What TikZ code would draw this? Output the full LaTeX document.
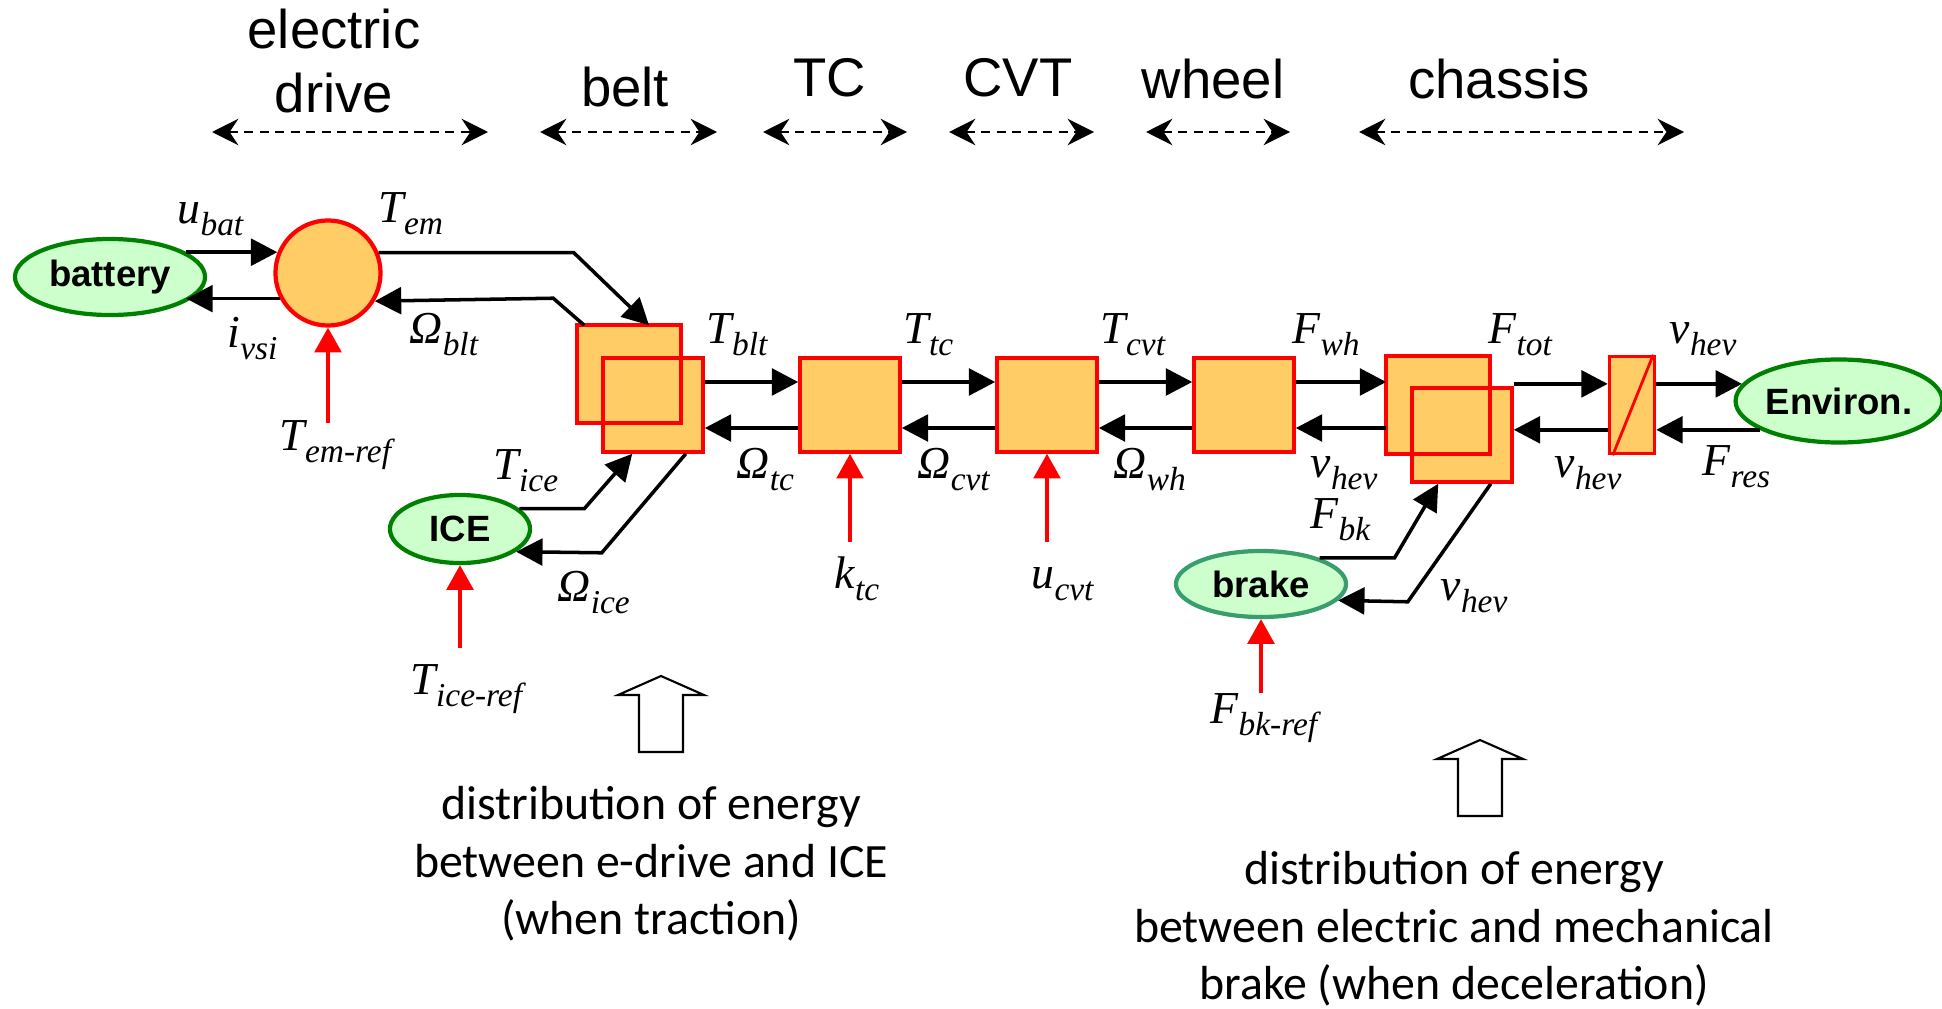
\documentclass[tikz,border=0pt]{standalone}
\usepackage{fontspec}
\setmainfont{Liberation Sans}
\newfontfamily\sigfont{Liberation Serif}
\newfontfamily\notefont{Carlito}
\usetikzlibrary{arrows.meta,shapes.geometric}
\definecolor{blockfill}{RGB}{255,204,102}
\definecolor{blockline}{RGB}{255,0,0}
\definecolor{srcfill}{RGB}{204,255,204}
\definecolor{srcline}{RGB}{0,128,0}
\definecolor{brakeline}{RGB}{56,158,108}
\newcommand{\vsig}[2]{#1\raisebox{-0.28em}{\fontsize{9.5}{10}\selectfont #2}}

\begin{document}
\begin{tikzpicture}[x=0.01cm, y=-0.01cm,
  block/.style={draw=blockline, fill=blockfill, line width=1pt, minimum width=1cm, minimum height=0.94cm, inner sep=0pt},
  source/.style={ellipse, draw=srcline, fill=srcfill, line width=1.2pt, inner sep=0pt, font=\bfseries\fontsize{10.4}{12}\selectfont},
  flow/.style={-{Triangle[length=7.5pt,width=7.6pt]}, line width=1pt},
  refarrow/.style={-{Triangle[length=7pt,width=7.6pt]}, red, line width=0.9pt},
  stagespan/.style={{Stealth[length=7.5pt,width=7.5pt,inset=2.5pt]}-{Stealth[length=7.5pt,width=7.5pt,inset=2.5pt]}, line width=0.7pt, dash pattern=on 2.6pt off 1.8pt},
  heading/.style={font=\fontsize{15.5}{18.2}\selectfont, inner sep=0pt, align=center},
  sig/.style={font=\sigfont\itshape\fontsize{13}{15}\selectfont, inner sep=0pt, anchor=base west},
  note/.style={font=\notefont\fontsize{13.6}{16.3}\selectfont, inner sep=0pt, align=center},
  hollow/.style={draw, fill=white, line width=0.6pt}]
\useasboundingbox (0,0) rectangle (1942,1009);

\node[heading] (hd-edrive) at (334,61) {electric\\drive};
\node[heading, anchor=base] (hd-belt) at (625,106) {belt};
\node[heading, anchor=base] (hd-tc) at (830,96) {TC};
\node[heading, anchor=base] (hd-cvt) at (1018,96) {CVT};
\node[heading, anchor=base] (hd-wheel) at (1213,98) {wheel};
\node[heading, anchor=base] (hd-chassis) at (1499,98) {chassis};
\foreach \stage/\from/\to in {edrive/212/488, belt/540/717, tc/763/907, cvt/949/1094, wheel/1146/1290, chassis/1359/1684} {
  \coordinate (\stage-l) at (\from,132);
  \coordinate (\stage-r) at (\to,132);
  \draw[stagespan] (\stage-l) -- (\stage-r);
}

\node[source, minimum width=1.9cm, minimum height=0.76cm] (battery) at (110,277) {battery};
\node[circle, draw=blockline, fill=blockfill, line width=1.2pt, minimum size=1.05cm] (em) at (328,273) {};
\node[block, draw=none] (belt1) at (629,374) {};
\node[block] (belt2) at (653,405) {};
\draw[blockline, line width=1pt] (belt1.south west) rectangle (belt1.north east);
\node[block] (tc) at (850,405) {};
\node[block] (cvt) at (1047,405) {};
\node[block] (wheel) at (1244,405) {};
\node[block, draw=none] (chassis1) at (1438,405) {};
\node[block] (chassis2) at (1462,435) {};
\draw[blockline, line width=1pt] (chassis1.south west) rectangle (chassis1.north east);
\node[block, minimum width=0.45cm, minimum height=0.97cm] (vehicle) at (1632,405) {};
\draw[blockline, line width=0.8pt] ([xshift=0.5mm]vehicle.south west) -- ([xshift=-0.3mm]vehicle.north east);
\node[source, minimum width=1.4cm, minimum height=0.68cm] (ice) at (460,529) {ICE};
\node[source, draw=brakeline, minimum width=1.7cm, minimum height=0.66cm] (brake) at (1261,584) {brake};
\node[source, minimum width=1.98cm, minimum height=0.83cm] (environ) at (1839,401) {Environ.};

\draw[flow] (battery.18) -- (em.158 |- battery.18);
\draw[flow] (em.208) -- (battery.-18 |- em.208);
\draw[flow] (em.22) -- ++(195,0) -- ([xshift=2mm]belt1.north);
\draw[flow] ([xshift=0.7mm]belt1.north west) -- ++(-31,-27) -- (em.-31);
\foreach \a/\b in {belt2/tc, tc/cvt, cvt/wheel, wheel/chassis1} {
  \draw[flow] ([yshift=2.3mm]\a.east) -- ([yshift=2.3mm]\b.west);
  \draw[flow] ([yshift=-2.3mm]\b.west) -- ([yshift=-2.3mm]\a.east);
}
\draw[flow] (chassis2.east |- environ.170) -- (vehicle.west |- environ.170);
\draw[flow] (vehicle.east |- environ.170) -- (environ.170);
\draw[flow] (environ.200) -- (vehicle.east |- environ.200);
\draw[flow] (vehicle.west |- environ.200) -- (chassis2.east |- environ.200);
\draw[flow] (ice.19) -- ++(65,0) -- ([xshift=3.1mm]belt2.south west);
\draw[flow] ([xshift=-1.9mm]belt2.south east) -- ++(-84,99) -- (ice.-22);
\draw[flow] (brake.24) -- ++(75,0) -- ([xshift=2.8mm]chassis2.south west);
\draw[flow] ([xshift=-2.3mm]chassis2.south east) -- ++(-83,118) -- (brake.-12);

\draw[refarrow] ([yshift=-0.95cm]em.south) -- (em.south);
\draw[refarrow] ([yshift=-0.83cm]ice.south) -- (ice.south);
\draw[refarrow] ([yshift=-0.88cm]tc.south) -- (tc.south);
\draw[refarrow] ([yshift=-0.88cm]cvt.south) -- (cvt.south);
\draw[refarrow] ([yshift=-0.74cm]brake.south) -- (brake.south);

\node[sig] (ubat) at (177,223) {\vsig{u}{bat}};
\node[sig] (tem) at (378,222) {\vsig{T}{em}};
\node[sig] (ivsi) at (227,347) {\vsig{i}{vsi}};
\node[sig] (oblt) at (409,343) {\vsig{Ω}{blt}};
\node[sig] (temref) at (279,450) {\vsig{T}{em-ref}};
\node[sig] (tblt) at (706,343) {\vsig{T}{blt}};
\node[sig] (ttc) at (903,343) {\vsig{T}{tc}};
\node[sig] (tcvt) at (1100,343) {\vsig{T}{cvt}};
\node[sig] (fwh) at (1292,343) {\vsig{F}{wh}};
\node[sig] (ftot) at (1488,343) {\vsig{F}{tot}};
\node[sig] (vhev1) at (1669,343) {\vsig{v}{hev}};
\node[sig] (otc) at (736,478) {\vsig{Ω}{tc}};
\node[sig] (ocvt) at (917,478) {\vsig{Ω}{cvt}};
\node[sig] (owh) at (1113,478) {\vsig{Ω}{wh}};
\node[sig] (vhev2) at (1310,477) {\vsig{v}{hev}};
\node[sig] (vhev3) at (1554,477) {\vsig{v}{hev}};
\node[sig] (fres) at (1702,475) {\vsig{F}{res}};
\node[sig] (fbk) at (1310,528) {\vsig{F}{bk}};
\node[sig] (vhev4) at (1440,600) {\vsig{v}{hev}};
\node[sig] (fbkref) at (1210,723) {\vsig{F}{bk-ref}};
\node[sig] (tice) at (493,479) {\vsig{T}{ice}};
\node[sig] (oice) at (557,601) {\vsig{Ω}{ice}};
\node[sig] (ticeref) at (410,694) {\vsig{T}{ice-ref}};
\node[sig] (ktc) at (834,588) {\vsig{k}{tc}};
\node[sig] (ucvt) at (1031,588) {\vsig{u}{cvt}};

\node[note] (note-traction) at (651,864) {distribution of energy\\between e-drive and ICE\\(when traction)};
\node[note] (note-brake) at (1454,929) {distribution of energy\\between electric and mechanical\\brake (when deceleration)};
\foreach \x/\y in {661/676, 1480/740}
  \draw[hollow] (\x,\y) -- ++(43,19) -- ++(-21,0) -- ++(0,57) -- ++(-44,0) -- ++(0,-57) -- ++(-21,0) -- cycle;
\end{tikzpicture}
\end{document}
